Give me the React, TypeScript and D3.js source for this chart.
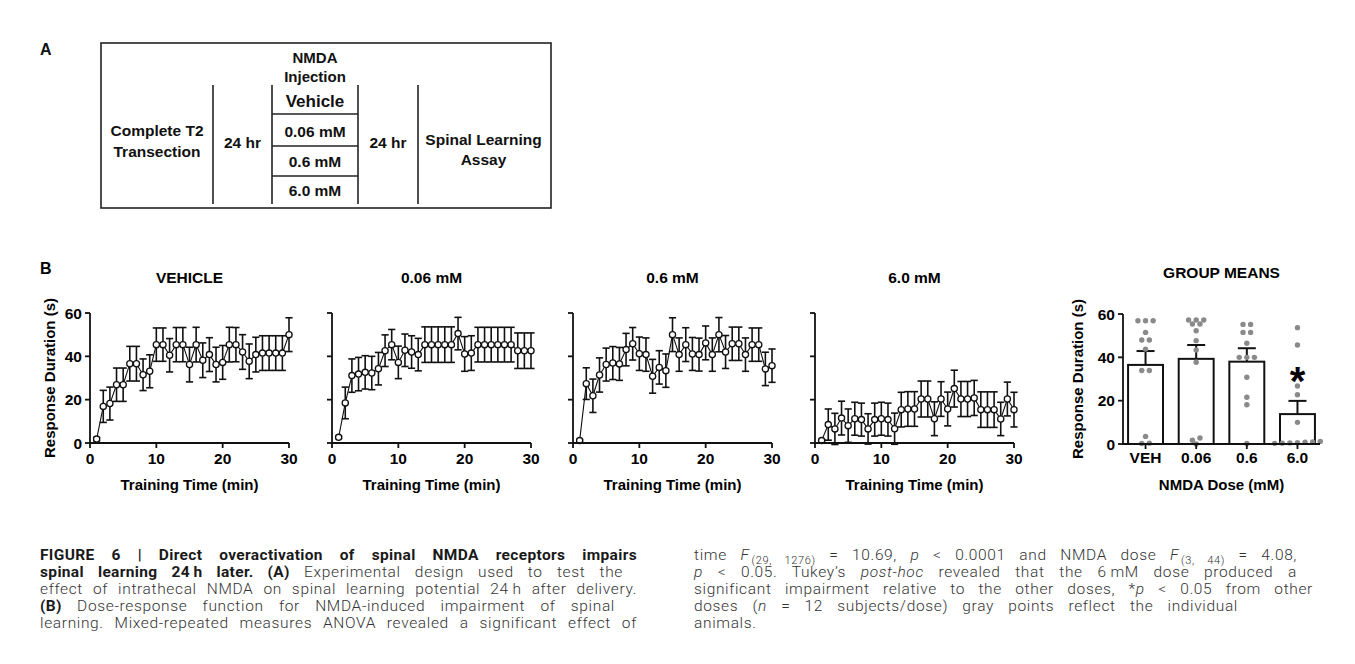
import React, { useLayoutEffect, useRef } from "react";
import * as d3 from "d3";

// ---------- DATA ----------
const minutes = [1,2,3,4,5,6,7,8,9,10,11,12,13,14,15,16,17,18,19,20,21,22,23,24,25,26,27,28,29,30];
const xTicks = [0, 10, 20, 30];
const yTicks = [0, 20, 40, 60];

const vehicleMean = [1.8,16.9,18.2,26.9,26.9,36.6,36.6,31.5,33.1,45.4,45.4,40.5,45.4,45.4,36.2,45.4,38.2,40.8,36.2,37.2,45.4,45.4,42,37.7,40.8,41.5,41.5,41.5,41.5,50];
const vehicleSem = [0.8,7.4,7.6,7.7,7.7,8,8,7.3,7.6,7.7,7.7,7.7,7.9,7.9,8,8,8,7.8,8,7.8,8,7.9,8,8,8,8,8,8,8,7.8];

const dose006Mean = [2.6,18.5,31.1,31.8,32.6,32.3,34.3,42.6,45.4,37.2,42.8,42,40.8,45.4,45.4,45.4,45.4,45.4,50.5,41.1,41.5,45.4,45.4,45.4,45.4,45.4,45.4,42.6,42.6,42.6];
const dose006Sem = [0.5,7.3,7.7,7.7,7.7,7.7,7.5,7.3,7,7.5,7.5,7.5,7.5,8.2,8.2,8.2,8.2,8.2,7.5,8,8,8,8,8,8,8,8,8.2,8.2,8.2];

const dose06Mean = [1.1,27.4,21.8,31.4,36.2,36.9,36.5,43.1,45.8,41.2,40.8,30.8,34.9,33.4,50,40.8,45.4,41.1,40.8,46.2,40.8,50,42,45.8,45.8,40.8,45.4,45.4,34.2,35.7];
const dose06Sem = [0.5,7.3,7.7,7.9,7.6,7.6,7.6,7.5,7.5,7.7,7.7,7.8,7.7,7.7,7.8,7.7,7.8,7.6,7.6,7.8,7.7,7.9,7.6,7.7,7.7,7.7,7.7,7.7,7.7,7.7];

const dose60Mean = [1.1,8.5,6.5,11.5,8,11.2,10.8,6.5,10.8,11.2,10.8,6.6,15.4,15.7,15.7,20.3,20.3,11.2,20.3,15.7,25.1,20.3,20.3,20.8,15.4,15.4,15.4,11.1,20.3,15.4];
const dose60Sem = [0.5,7.2,7.2,7.8,7.7,7.6,7.6,7,7.6,7.6,7.6,7.2,8,8,8,8.3,8.3,7.8,8,7.8,8.5,8.1,8.1,8.1,8.2,8.2,8.2,7.7,7.8,8];

const panelTitles = ["VEHICLE", "0.06 mM", "0.6 mM", "6.0 mM"];

const groupLabels = ["VEH", "0.06", "0.6", "6.0"];
const groupMeans = [36.5, 39.3, 38.0, 13.8];
const groupSem = [6.4, 6.4, 6.2, 6.1];
const animalsVEH = [56.9,56.9,56.9,51.5,48,48,43.8,33.9,33.9,3.5,0.2,0.4];
const animals006 = [57.2,57.2,57.2,55.4,55.4,52.3,47.7,43.4,37.7,2.8,1.7,0];
const animals06 = [55.2,55.2,51.5,51.5,46.5,40,40,40,30.8,21.6,18.1,0.2];
const animals60 = [53.7,45.7,26.8,22.7,10,0.5,0.8,0.3,1.0,0.6,1.2,0.4];

const designDoses = ["Vehicle", "0.06 mM", "0.6 mM", "6.0 mM"];

type Seg = { t: string; b?: boolean; i?: boolean; sub?: boolean };
const captionLeft: Seg[][] = [
  [{ t: "FIGURE 6 | Direct overactivation of spinal NMDA receptors impairs", b: true }],
  [{ t: "spinal learning 24\u2009h later. (A)", b: true }, { t: " Experimental design used to test the" }],
  [{ t: "effect of intrathecal NMDA on spinal learning potential 24\u2009h after delivery." }],
  [{ t: "(B)", b: true }, { t: " Dose-response function for NMDA-induced impairment of spinal" }],
  [{ t: "learning. Mixed-repeated measures ANOVA revealed a significant effect of" }],
];
const captionRight: Seg[][] = [
  [{ t: "time " }, { t: "F", i: true }, { t: "(29,\u2002\u20021276)", sub: true }, { t: " = 10.69, " }, { t: "p", i: true }, { t: " < 0.0001 and NMDA dose " }, { t: "F", i: true }, { t: "(3,\u2002\u200244)", sub: true }, { t: " = 4.08," }],
  [{ t: "p", i: true }, { t: " < 0.05. Tukey\u2019s " }, { t: "post-hoc", i: true }, { t: " revealed that the 6\u2009mM dose produced a" }],
  [{ t: "significant impairment relative to the other doses, *" }, { t: "p", i: true }, { t: " < 0.05 from other" }],
  [{ t: "doses (" }, { t: "n", i: true }, { t: " = 12 subjects/dose) gray points reflect the individual" }],
  [{ t: "animals." }],
];

// ---------- LAYOUT ----------
const W = 1355, H = 664;
const FONT = "'Liberation Sans', Arial, sans-serif";
const CAP_FONT = "Roboto, 'Liberation Sans', sans-serif";
const panelLefts = [90, 332, 573, 815];
const panelW = 199;
const plotTop = 313, plotBottom = 443;

function TimePanel({ x0, title, means, sems, showLabels }: { x0: number; title: string; means: number[]; sems: number[]; showLabels: boolean }) {
  const x = d3.scaleLinear().domain([0, 30]).range([x0, x0 + panelW]);
  const y = d3.scaleLinear().domain([0, 60]).range([plotBottom, plotTop]);
  const line = d3.line<number>().x((_, i) => x(minutes[i])).y((d) => y(d));
  const cap = 3.6;
  return (
    <g>
      <text x={(x0 + x0 + panelW) / 2} y={283} textAnchor="middle" fontSize={15.5} fontWeight="bold" fontFamily={FONT}>{title}</text>
      <path d={line(means) || ""} fill="none" stroke="#111" strokeWidth={1.1} />
      {means.map((m, i) => {
        const cx = x(minutes[i]);
        return (
          <g key={i} stroke="#111" strokeWidth={1.6}>
            <line x1={cx} x2={cx} y1={y(m - sems[i])} y2={y(m + sems[i])} />
            <line x1={cx - cap} x2={cx + cap} y1={y(m + sems[i])} y2={y(m + sems[i])} />
            <line x1={cx - cap} x2={cx + cap} y1={y(m - sems[i])} y2={y(m - sems[i])} />
          </g>
        );
      })}
      {means.map((m, i) => (
        <circle key={i} cx={x(minutes[i])} cy={y(m)} r={3.1} fill="#fff" stroke="#111" strokeWidth={1.3} />
      ))}
      <line x1={x0} x2={x0} y1={y(60)} y2={y(0) + 0.8} stroke="#111" strokeWidth={1.8} />
      <line x1={x0} x2={x(30)} y1={y(0)} y2={y(0)} stroke="#111" strokeWidth={1.8} />
      {yTicks.map((t) => (
        <g key={t}>
          <line x1={x0 - 5} x2={x0} y1={y(t)} y2={y(t)} stroke="#111" strokeWidth={1.8} />
          {showLabels && (
            <text x={x0 - 8} y={y(t) + 5.5} textAnchor="end" fontSize={15.5} fontWeight="bold" fontFamily={FONT}>{t}</text>
          )}
        </g>
      ))}
      {xTicks.map((t) => (
        <g key={t}>
          <line x1={x(t)} x2={x(t)} y1={y(0)} y2={y(0) + 5} stroke="#111" strokeWidth={1.8} />
          <text x={x(t)} y={464} textAnchor="middle" fontSize={15.5} fontWeight="bold" fontFamily={FONT}>{t}</text>
        </g>
      ))}
      <text x={(x0 + x0 + panelW) / 2} y={490} textAnchor="middle" fontSize={15} fontWeight="bold" fontFamily={FONT}>Training Time (min)</text>
    </g>
  );
}

// cluster near-identical values and spread them symmetrically
function spread(values: number[], spacing: number, tol: number) {
  const idx = values.map((v, i) => i).sort((a, b) => values[a] - values[b]);
  const offs = new Array(values.length).fill(0);
  let cluster: number[] = [];
  const flush = () => {
    cluster.forEach((ci, k) => { offs[ci] = (k - (cluster.length - 1) / 2) * spacing; });
    cluster = [];
  };
  idx.forEach((i) => {
    if (cluster.length && values[i] - values[cluster[cluster.length - 1]] > tol) flush();
    cluster.push(i);
  });
  flush();
  return offs;
}

function GroupPanel() {
  const x0 = 1123, x1 = 1320;
  const x = d3.scaleBand<string>().domain(groupLabels).range([x0, x1]).paddingInner(0.31).paddingOuter(0.1);
  const y = d3.scaleLinear().domain([0, 60]).range([444, 314]);
  const animals = [animalsVEH, animals006, animals06, animals60];
  const bw = x.bandwidth();
  const starX = (x("6.0") as number) + bw / 2;
  return (
    <g>
      <text x={(x0 + x1) / 2} y={277.5} textAnchor="middle" fontSize={15.5} fontWeight="bold" fontFamily={FONT}>GROUP MEANS</text>
      {groupLabels.map((g, i) => {
        const bx = x(g) as number;
        const cx = bx + bw / 2;
        const top = y(groupMeans[i]);
        const et = y(groupMeans[i] + groupSem[i]);
        return (
          <g key={g}>
            <rect x={bx} y={top} width={bw} height={y(0) - top} fill="#fff" stroke="#111" strokeWidth={2} />
            <line x1={cx} x2={cx} y1={top} y2={et} stroke="#111" strokeWidth={2} />
            <line x1={cx - 9} x2={cx + 9} y1={et} y2={et} stroke="#111" strokeWidth={2} />
          </g>
        );
      })}
      {groupLabels.map((g, i) => {
        const cx = (x(g) as number) + bw / 2;
        const offs = spread(animals[i], 7.6, 1.2);
        return animals[i].map((v, k) => (
          <circle key={g + k} cx={cx + offs[k]} cy={y(v)} r={2.7} fill="#8a8a8a" />
        ));
      })}
      <text x={starX} y={y(groupMeans[3] + groupSem[3]) - 6} textAnchor="middle" fontSize={40} fontWeight="bold" fontFamily={FONT}>*</text>
      <line x1={x0} x2={x0} y1={y(60)} y2={y(0) + 0.8} stroke="#111" strokeWidth={1.8} />
      <line x1={x0} x2={x1} y1={y(0)} y2={y(0)} stroke="#111" strokeWidth={1.8} />
      {yTicks.map((t) => (
        <g key={t}>
          <line x1={x0 - 5} x2={x0} y1={y(t)} y2={y(t)} stroke="#111" strokeWidth={1.8} />
          <text x={x0 - 8} y={y(t) + 5.5} textAnchor="end" fontSize={15.5} fontWeight="bold" fontFamily={FONT}>{t}</text>
        </g>
      ))}
      {groupLabels.map((g) => {
        const cx = (x(g) as number) + bw / 2;
        return (
          <g key={g}>
            <line x1={cx} x2={cx} y1={y(0)} y2={y(0) + 5} stroke="#111" strokeWidth={1.8} />
            <text x={cx} y={463} textAnchor="middle" fontSize={15.5} fontWeight="bold" fontFamily={FONT}>{g}</text>
          </g>
        );
      })}
      <text x={(x0 + x1) / 2} y={490} textAnchor="middle" fontSize={15} fontWeight="bold" fontFamily={FONT}>NMDA Dose (mM)</text>
      <text transform={`translate(1083,379) rotate(-90)`} textAnchor="middle" fontSize={15} fontWeight="bold" fontFamily={FONT}>Response Duration (s)</text>
    </g>
  );
}

function Design() {
  const cols = [101, 213, 272, 358, 418, 551];
  const rowLines = [114, 146, 176];
  const doseBase = [107, 137, 166.5, 196];
  return (
    <g fontFamily={FONT} fontWeight="bold" fill="#111">
      <text x={40} y={55} fontSize={16}>A</text>
      <rect x={101} y={43} width={450} height={165} fill="none" stroke="#222" strokeWidth={1.6} />
      {[213, 272, 358, 418].map((cx) => (
        <line key={cx} x1={cx} x2={cx} y1={85} y2={204} stroke="#222" strokeWidth={1.6} />
      ))}
      {rowLines.map((ry) => (
        <line key={ry} x1={272} x2={358} y1={ry} y2={ry} stroke="#222" strokeWidth={1.6} />
      ))}
      <text x={315} y={63} textAnchor="middle" fontSize={15}>NMDA</text>
      <text x={315} y={82} textAnchor="middle" fontSize={15}>Injection</text>
      {designDoses.map((d, i) => (
        <text key={d} x={315} y={doseBase[i]} textAnchor="middle" fontSize={i === 0 ? 17 : 15.5}>{d}</text>
      ))}
      <text x={(cols[0] + cols[1]) / 2} y={136} textAnchor="middle" fontSize={15.5}>Complete T2</text>
      <text x={(cols[0] + cols[1]) / 2} y={156.5} textAnchor="middle" fontSize={15.5}>Transection</text>
      <text x={(cols[1] + cols[2]) / 2} y={148} textAnchor="middle" fontSize={15.5}>24 hr</text>
      <text x={(cols[3] + cols[4]) / 2} y={148} textAnchor="middle" fontSize={15.5}>24 hr</text>
      <text x={(cols[4] + cols[5]) / 2 - 1} y={145} textAnchor="middle" fontSize={15.5}>Spinal Learning</text>
      <text x={(cols[4] + cols[5]) / 2 - 1} y={165} textAnchor="middle" fontSize={15.5}>Assay</text>
    </g>
  );
}

function CaptionLine({ segs, x, y, width }: { segs: Seg[]; x: number; y: number; width: number | null }) {
  const ref = useRef<SVGTextElement>(null);
  useLayoutEffect(() => {
    const el = ref.current;
    if (!el || width == null) return;
    el.setAttribute("word-spacing", "0");
    const natural = el.getComputedTextLength();
    const spaces = segs.map((s) => s.t).join("").split(" ").length - 1;
    if (spaces > 0) el.setAttribute("word-spacing", String(Math.max(0, (width - natural) / spaces)));
  }, [segs, width]);
  return (
    <text ref={ref} x={x} y={y} fontSize={15.5} fontFamily={CAP_FONT} fontWeight={300} letterSpacing={0.65} fill="#333">
      {segs.map((s, i) => (
        <tspan key={i} dx={s.sub ? 2 : undefined} baselineShift={s.sub ? -3.5 : undefined} fontWeight={s.b ? "bold" : undefined} fontStyle={s.i ? "italic" : undefined} fontSize={s.sub ? 11 : undefined} letterSpacing={s.b ? 0.35 : undefined} fill={s.b ? "#1a1a1a" : undefined}>{s.t}</tspan>
      ))}
    </text>
  );
}

export default function App() {
  const means = [vehicleMean, dose006Mean, dose06Mean, dose60Mean];
  const sems = [vehicleSem, dose006Sem, dose06Sem, dose60Sem];
  const leftW = [597, 583, 597, 575, 597];
  const rightW = [599, 603, 619, 544, null];
  const lineYs = [560, 577, 594, 611, 628, 645];
  return (
    <svg width={W} height={H} style={{ position: "absolute", left: 0, top: 0, display: "block", background: "#fff" }}>
      <rect width={W} height={H} fill="#fff" />
      <Design />
      <text x={40} y={274} fontSize={16} fontWeight="bold" fontFamily={FONT}>B</text>
      <text transform={`translate(55,378) rotate(-90)`} textAnchor="middle" fontSize={15} fontWeight="bold" fontFamily={FONT}>Response Duration (s)</text>
      {panelTitles.map((t, i) => (
        <TimePanel key={t} x0={panelLefts[i]} title={t} means={means[i]} sems={sems[i]} showLabels={i === 0} />
      ))}
      <GroupPanel />
      {captionLeft.map((segs, i) => (
        <CaptionLine key={"l" + i} segs={segs} x={40} y={lineYs[i]} width={leftW[i]} />
      ))}
      {captionRight.map((segs, i) => (
        <CaptionLine key={"r" + i} segs={segs} x={694} y={lineYs[i]} width={rightW[i]} />
      ))}
    </svg>
  );
}
